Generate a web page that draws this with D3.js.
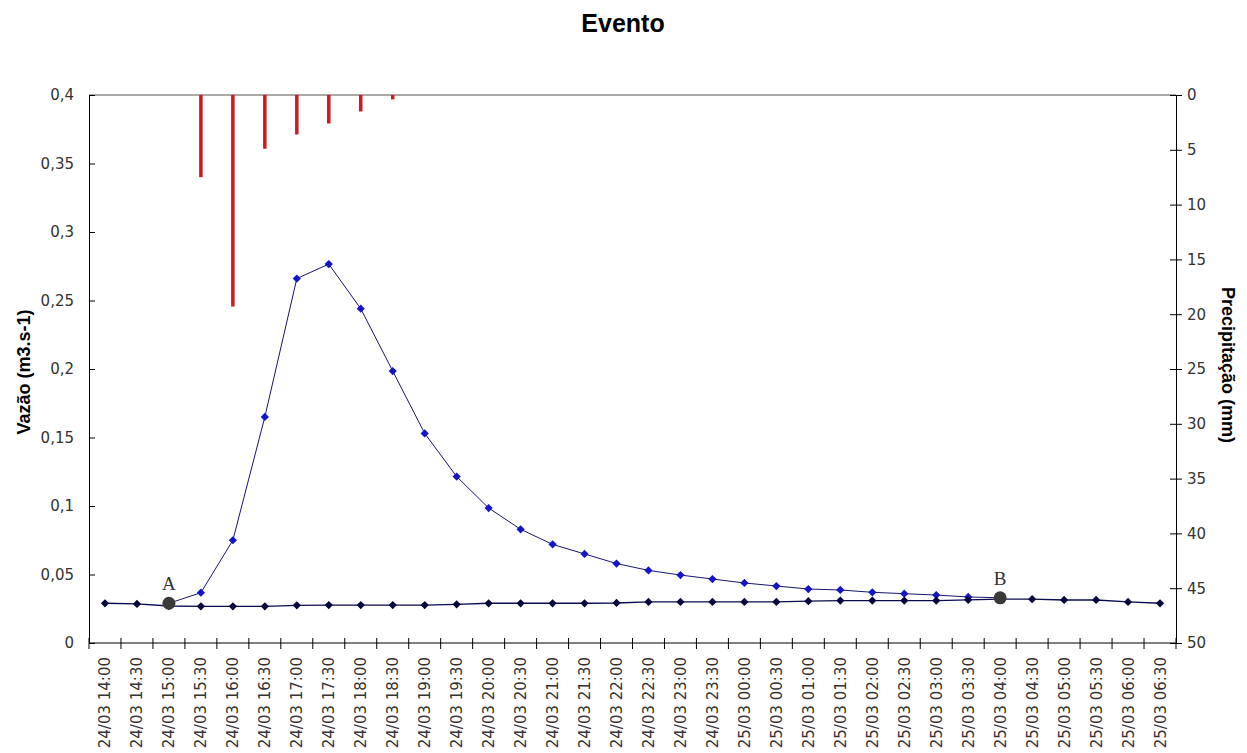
<!DOCTYPE html>
<html>
<head>
<meta charset="utf-8">
<script src="https://cdn.jsdelivr.net/npm/d3@7"></script>
<style>
  body { margin: 0; background: #fff; }
  text { font-family: "Liberation Sans", Arial, sans-serif; }
</style>
</head>
<body>
<div id="plot"></div>
<script>
// categories (half-hourly, 24/03 14:00 -> 25/03 06:30)
var times = ["24/03 14:00", "24/03 14:30", "24/03 15:00", "24/03 15:30", "24/03 16:00", "24/03 16:30",
             "24/03 17:00", "24/03 17:30", "24/03 18:00", "24/03 18:30", "24/03 19:00", "24/03 19:30",
             "24/03 20:00", "24/03 20:30", "24/03 21:00", "24/03 21:30", "24/03 22:00", "24/03 22:30",
             "24/03 23:00", "24/03 23:30", "25/03 00:00", "25/03 00:30", "25/03 01:00", "25/03 01:30",
             "25/03 02:00", "25/03 02:30", "25/03 03:00", "25/03 03:30", "25/03 04:00", "25/03 04:30",
             "25/03 05:00", "25/03 05:30", "25/03 06:00", "25/03 06:30"];

// observed flow during the event (m3/s), from A to B
var vazao = [null, null, 0.029, 0.0367, 0.075, 0.165, 0.266, 0.2766, 0.244, 0.1985, 0.153, 0.1215,
             0.0985, 0.083, 0.072, 0.065, 0.058, 0.053, 0.0496, 0.0467, 0.0438, 0.0416, 0.0394, 0.0387,
             0.037, 0.036, 0.035, 0.0336, 0.033, null, null, null, null, null];

// base flow
var base = [0.029, 0.0285, 0.027, 0.0268, 0.0268, 0.0268, 0.0275, 0.0277, 0.0277, 0.0277, 0.0277, 0.0282,
            0.029, 0.029, 0.029, 0.029, 0.0292, 0.030, 0.030, 0.030, 0.030, 0.030, 0.0305, 0.031,
            0.031, 0.031, 0.031, 0.0315, 0.032, 0.032, 0.0314, 0.0314, 0.030, 0.029];

// rainfall (mm)
var chuva = [0, 0, 0, 7.5, 19.3, 4.9, 3.6, 2.6, 1.5, 0.4, 0, 0, 0, 0, 0, 0, 0, 0,
             0, 0, 0, 0, 0, 0, 0, 0, 0, 0, 0, 0, 0, 0, 0, 0];

var pontos = [{label: "A", i: 2, v: 0.029}, {label: "B", i: 28, v: 0.033}];

var qTicks = [0, 0.05, 0.1, 0.15, 0.2, 0.25, 0.3, 0.35, 0.4];
var pTicks = [0, 5, 10, 15, 20, 25, 30, 35, 40, 45, 50];

var W = 1247, H = 753;
var mLeft = 89, mRight = 1176, mTop = 95, mBottom = 643;
var tickFont = "'DejaVu Sans', Verdana, sans-serif";

var svg = d3.select("#plot").append("svg")
    .attr("width", W).attr("height", H);

var x = d3.scaleBand().domain(d3.range(times.length)).range([mLeft, mRight]);
var cx = function (i) { return x(i) + x.bandwidth() / 2; };
var y = d3.scaleLinear().domain([0, 0.4]).range([mBottom, mTop]);
var yR = d3.scaleLinear().domain([0, 50]).range([mTop, mBottom]);

var fmt = function (d) { return d === 0 ? "0" : String(d).replace(".", ","); };

svg.append("text")
    .attr("x", 623).attr("y", 32)
    .attr("text-anchor", "middle")
    .style("font-size", "25px").style("font-weight", "bold")
    .text("Evento");

// top border of plot area
svg.append("line")
    .attr("x1", mLeft).attr("x2", mRight).attr("y1", mTop).attr("y2", mTop)
    .attr("stroke", "#8c8c8c").attr("stroke-width", 1.5);

// left axis
var gl = svg.append("g").attr("transform", "translate(" + mLeft + ",0)")
    .call(d3.axisLeft(y).tickValues(qTicks).tickFormat(fmt).tickSizeInner(6).tickSizeOuter(0).tickPadding(9));
gl.selectAll(".tick line").attr("x2", 6);

// right axis
var gr = svg.append("g").attr("transform", "translate(" + mRight + ",0)")
    .call(d3.axisRight(yR).tickValues(pTicks).tickSizeInner(6).tickSizeOuter(0).tickPadding(5));
gr.selectAll(".tick line").attr("x1", -6);

// x axis: ticks on category boundaries
var gx = svg.append("g").attr("transform", "translate(0," + mBottom + ")");
gx.append("line").attr("x1", mLeft).attr("x2", mRight).attr("stroke", "#000");
gx.selectAll(".bt").data(d3.range(times.length + 1)).enter().append("line")
    .attr("x1", function (i) { return mLeft + i * x.step(); })
    .attr("x2", function (i) { return mLeft + i * x.step(); })
    .attr("y1", -5).attr("y2", 6).attr("stroke", "#000");
gx.selectAll(".lab").data(times).enter().append("text")
    .attr("transform", function (d, i) { return "translate(" + (cx(i) + 5.5) + ",14) rotate(-90)"; })
    .attr("text-anchor", "end")
    .style("font-family", tickFont)
    .style("font-size", "15px").attr("fill", "#333")
    .text(function (d) { return d; });

[gl, gr].forEach(function (g) {
  g.select(".domain").attr("stroke", "#000");
  g.selectAll(".tick line").attr("stroke", "#000");
  g.selectAll(".tick text").style("font-size", "15px").attr("fill", "#333")
    .style("font-family", tickFont);
});

svg.append("text")
    .attr("transform", "translate(30,372) rotate(-90)")
    .attr("text-anchor", "middle")
    .style("font-size", "18px").style("font-weight", "bold")
    .text("Vazão (m3.s-1)");

svg.append("text")
    .attr("transform", "translate(1222,365) rotate(90)")
    .attr("text-anchor", "middle")
    .style("font-size", "18px").style("font-weight", "bold")
    .text("Precipitação (mm)");

// rainfall bars hanging from the top
var rain = chuva.map(function (v, i) { return {i: i, v: v}; })
                .filter(function (d) { return d.v > 0; });
svg.selectAll(".chuva").data(rain).enter().append("line")
    .attr("x1", function (d) { return cx(d.i); })
    .attr("x2", function (d) { return cx(d.i); })
    .attr("y1", yR(0)).attr("y2", function (d) { return yR(d.v); })
    .attr("stroke", "#d01820").attr("stroke-width", 3.5);

var diamond = d3.symbol().type(d3.symbolSquare).size(34);

function drawSeries(values, lineColor, markColor, lw) {
  var pts = values.map(function (v, i) { return {i: i, v: v}; })
                  .filter(function (d) { return d.v !== null; });
  var line = d3.line()
      .x(function (d) { return cx(d.i); })
      .y(function (d) { return y(d.v); });
  svg.append("path").datum(pts).attr("d", line)
      .attr("fill", "none").attr("stroke", lineColor).attr("stroke-width", lw);
  svg.append("g").selectAll("path").data(pts).enter().append("path")
      .attr("d", diamond)
      .attr("transform", function (d) { return "translate(" + cx(d.i) + "," + y(d.v) + ") rotate(45)"; })
      .attr("fill", markColor);
}

drawSeries(vazao, "#16166e", "#1414c8", 1);
drawSeries(base, "#0a0a50", "#06063f", 1.3);

// points A and B
svg.selectAll(".pt").data(pontos).enter().append("circle")
    .attr("cx", function (d) { return cx(d.i); })
    .attr("cy", function (d) { return y(d.v); })
    .attr("r", 6.5).attr("fill", "#3a3a3a");
svg.selectAll(".ptl").data(pontos).enter().append("text")
    .attr("x", function (d) { return cx(d.i); })
    .attr("y", function (d) { return y(d.v) - 13; })
    .attr("text-anchor", "middle")
    .style("font-family", "'Liberation Serif', 'Times New Roman', serif")
    .style("font-size", "19px").attr("fill", "#333")
    .text(function (d) { return d.label; });
</script>
</body>
</html>
